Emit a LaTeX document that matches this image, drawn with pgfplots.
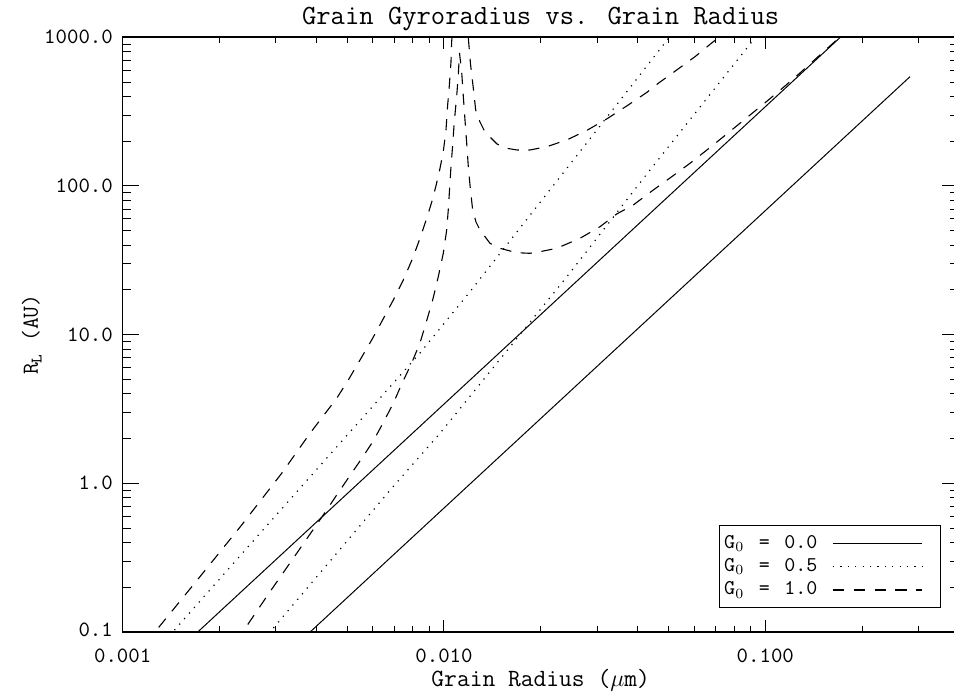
\documentclass[border=0pt]{standalone}
\usepackage{fontspec}
\usepackage{pgfplots}
\pgfplotsset{compat=1.18}
\begin{document}
\begin{tikzpicture}
\begin{axis}[
  at={(0pt,0pt)}, anchor=south west,
  scale only axis, width=418.03pt, height=297.35pt,
  xmode=log, ymode=log,
  xmin=0.001, xmax=0.4, ymin=0.1, ymax=1000,
  xtick={0.001,0.01,0.1}, xticklabels={0.001,0.010,0.100},
  ytick={0.1,1,10,100,1000}, yticklabels={\raisebox{2.5pt}{0.1},1.0,10.0,100.0,\raisebox{-3.85pt}{1000.0}},
  minor xtick={0.002,0.003,0.004,0.005,0.006,0.007,0.008,0.009,0.02,0.03,0.04,0.05,0.06,0.07,0.08,0.09,0.2,0.3},
  minor ytick={0.2,0.3,0.4,0.5,0.6,0.7,0.8,0.9,2,3,4,5,6,7,8,9,20,30,40,50,60,70,80,90,200,300,400,500,600,700,800,900},
  tick align=inside,
  major tick length=8.35pt, minor tick length=4.2pt,
  xtick style={/pgfplots/major tick length=6pt, /pgfplots/minor tick length=3pt},
  tick style={black, line width=0.5pt},
  axis line style={black, line width=0.8pt},
  xticklabel style={font=\fontsize{10.9}{13}\ttfamily, inner sep=0pt, anchor=north, yshift=-8.5pt},
  yticklabel style={font=\fontsize{10.9}{13}\ttfamily, inner sep=0pt, anchor=east, xshift=-4.7pt},
  title={Grain Gyroradius vs. Grain Radius},
  every axis title shift=0pt,
  title style={font=\fontsize{13.9}{16}\ttfamily, at={(axis description cs:0.5,1.0207)}, anchor=base, inner sep=0pt, yshift=0pt},
  xlabel={Grain Radius ($\mu$m)},
  ylabel={R$_{\mathtt{L}}$ (AU)},
  every axis x label/.style={font=\fontsize{12.4}{14}\ttfamily, at={(axis description cs:0.5,-0.0908)}, anchor=base, inner sep=0pt},
  every axis y label/.style={font=\fontsize{11.5}{13}\ttfamily, at={(axis description cs:-0.1013,0.5)}, rotate=90, anchor=base, inner sep=0pt},
  legend style={at={(0.9785,0.0409)}, anchor=south east, draw=black, line width=0.5pt, fill=white,
    inner xsep=2.3pt, inner ysep=4.6pt, row sep=3.65pt, column sep=7.5pt,
    font=\fontsize{10.5}{12}\ttfamily, nodes={inner sep=0pt}, cells={anchor=west}},
  legend plot pos=right,
  legend image code/.code={\draw[#1] (0pt,0pt) -- (44.65pt,0pt); \path (51.05pt,0pt);},
]
% G0 = 0.0 (solid)
\addplot[black, line width=0.5pt] coordinates {(0.0016,0.0873) (0.18,1105.5)};
\addlegendentry{G$_0$\, = \,0.0}
\addplot[black, line width=0.5pt, forget plot] coordinates {(0.0036,0.0883) (0.282,543)};
% G0 = 0.5 (dotted)
\addplot[black, line width=0.6pt, dash pattern=on 0.6pt off 3.1pt] coordinates {
(0.00135,0.0868) (0.001431,0.1) (0.002714,0.4778) (0.005162,2.284) (0.00842,7.522) (0.012046,19.45) (0.019433,72.54) (0.03059,253.1) (0.05026,1000) (0.05427,1236)};
\addlegendentry{G$_0$\, = \,0.5}
\addplot[black, line width=0.6pt, dash pattern=on 0.6pt off 3.1pt, forget plot] coordinates {
(0.00275,0.0893) (0.002874,0.1) (0.006874,0.9256) (0.009717,2.170) (0.02409,24.42) (0.04377,128.1) (0.09176,959.0) (0.09979,1203)};
% G0 = 1.0 (dashed)
\addplot[black, line width=0.55pt, dash pattern=on 5.6pt off 4.8pt] coordinates {
(0.00118,0.0834) (0.00126,0.1) (0.00174,0.2355) (0.002346,0.5243) (0.003125,1.168) (0.003828,2.169) (0.004635,3.731) (0.005037,4.953) (0.005478,6.753) (0.005956,9.204) (0.006399,12.22) (0.006954,17.10) (0.00747,23.31) (0.007991,32.62) (0.00842,44.46) (0.008872,62.14) (0.009262,84.69) (0.009648,121.7) (0.00995,170.1) (0.010144,237.9) (0.010261,345.1) (0.010387,470.3) (0.010514,682.2) (0.010568,944.3) (0.011175,3900) (0.0119,1000) (0.012091,661.3) (0.012336,456.0) (0.01255,324.3) (0.012944,269.3) (0.01332,237.9) (0.013905,213.5) (0.014622,191.6) (0.015707,179.2) (0.016874,174.6) (0.018522,174.6) (0.020875,183.7) (0.02409,203.8) (0.0278,236.1) (0.03209,282.2) (0.03704,345.1) (0.04275,425.3) (0.04645,490.5) (0.053,602.6) (0.06042,740.5) (0.06889,934.1) (0.07767,1120)};
\addlegendentry{G$_0$\, = \,1.0}
\addplot[black, line width=0.55pt, dash pattern=on 5.6pt off 4.8pt, forget plot] coordinates {
(0.00225,0.0863) (0.002363,0.1) (0.002874,0.1866) (0.00348,0.3382) (0.00421,0.612) (0.00458,0.8026) (0.005037,1.086) (0.005545,1.469) (0.006025,1.926) (0.006473,2.565) (0.006954,3.453) (0.007386,4.655) (0.007934,6.447) (0.00842,8.786) (0.008791,11.98) (0.009222,17.10) (0.0096,24.53) (0.00995,35.25) (0.010195,50.57) (0.010328,72.20) (0.010417,98.42) (0.010514,134.8) (0.010643,188.7) (0.010758,265.2) (0.010953,402.9) (0.011079,557.7) (0.011175,784.2) (0.011353,584.2) (0.011483,402.9) (0.011624,277.8) (0.011766,194.5) (0.0119,136.2) (0.012072,96.9) (0.012282,68.93) (0.012577,57.24) (0.012944,50.57) (0.013905,41.16) (0.01494,38.08) (0.016838,35.58) (0.018522,35.25) (0.019898,36.14) (0.022426,38.08) (0.026503,44.46) (0.03059,53.22) (0.03447,64.78) (0.03884,74.47) (0.04482,93.95) (0.05114,115.4) (0.05831,142.1) (0.06645,177.6) (0.07585,223.4) (0.08541,275.6) (0.09857,354.8) (0.1111,440.0) (0.1282,575.3) (0.177,1077.6)};
\end{axis}
\pgfresetboundingbox
\useasboundingbox (-61.35pt,-30pt) rectangle (415.65pt,316pt);
\end{tikzpicture}
\end{document}
